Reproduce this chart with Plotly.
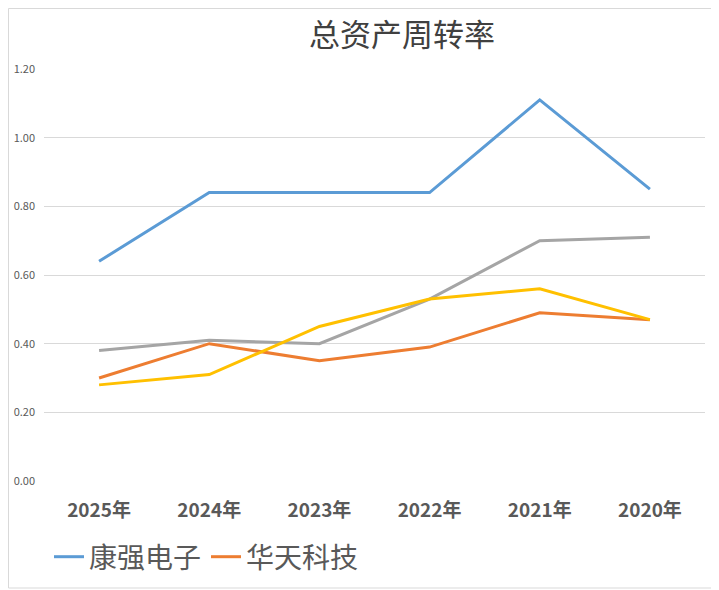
import plotly.graph_objects as go

years = ["2025年", "2024年", "2023年", "2022年", "2021年", "2020年"]
kangqiang = [0.64, 0.84, 0.84, 0.84, 1.11, 0.85]
huatian = [0.30, 0.40, 0.35, 0.39, 0.49, 0.47]
gray_series = [0.38, 0.41, 0.40, 0.53, 0.70, 0.71]
yellow_series = [0.28, 0.31, 0.45, 0.53, 0.56, 0.47]

series = [
    ("康强电子", kangqiang, "#5B9BD5", True),
    ("华天科技", huatian, "#ED7D31", True),
    ("长电科技", gray_series, "#A5A5A5", False),
    ("通富微电", yellow_series, "#FFC000", False),
]

fig = go.Figure()
for name, vals, color, show in series:
    fig.add_trace(go.Scatter(x=years, y=vals, name=name, mode="lines",
                             line=dict(color=color, width=3), showlegend=show))

W, H = 719, 590
L, T, PW, PH = 36, 61, 661, 412

font_family = "Noto Sans CJK SC, Noto Sans, sans-serif"
fig.update_layout(
    width=W, height=H,
    margin=dict(l=L, r=W - L - PW, t=T, b=H - T - PH, autoexpand=False),
    paper_bgcolor="white", plot_bgcolor="white",
    font=dict(family=font_family, color="#595959"),
    title=dict(text="总资产周转率", x=394 / W, xref="container", xanchor="center",
               y=1 - 27 / H, yref="container", yanchor="middle",
               font=dict(size=31, color="#404040", family=font_family)),
    xaxis=dict(type="category", range=[-0.5, 5.5], showgrid=False, showline=False,
               ticks="", ticklabelstandoff=16, automargin=False,
               tickfont=dict(size=19, color="#595959", weight="bold")),
    yaxis=dict(range=[0, 1.2], dtick=0.2, tickformat=".2f", showgrid=True,
               gridcolor="#D9D9D9", gridwidth=1, zeroline=False, showline=False,
               ticks="", ticklabelstandoff=8, automargin=False,
               tickfont=dict(size=11, color="#595959")),
    legend=dict(orientation="h", xref="container", yref="container",
                x=41 / W, xanchor="left", y=1 - 549 / H, yanchor="middle",
                font=dict(size=28, color="#595959"),
                tracegroupgap=0, bgcolor="rgba(0,0,0,0)"),
    shapes=[dict(type="rect", xref="paper", yref="paper",
                 x0=(0.5 - L) / PW, x1=(W - L) / PW,
                 y0=(T + PH - 580) / PH, y1=(T + PH - 0.5) / PH,
                 line=dict(color="#D9D9D9", width=1), layer="below")],
)

fig.write_html("out.html")
